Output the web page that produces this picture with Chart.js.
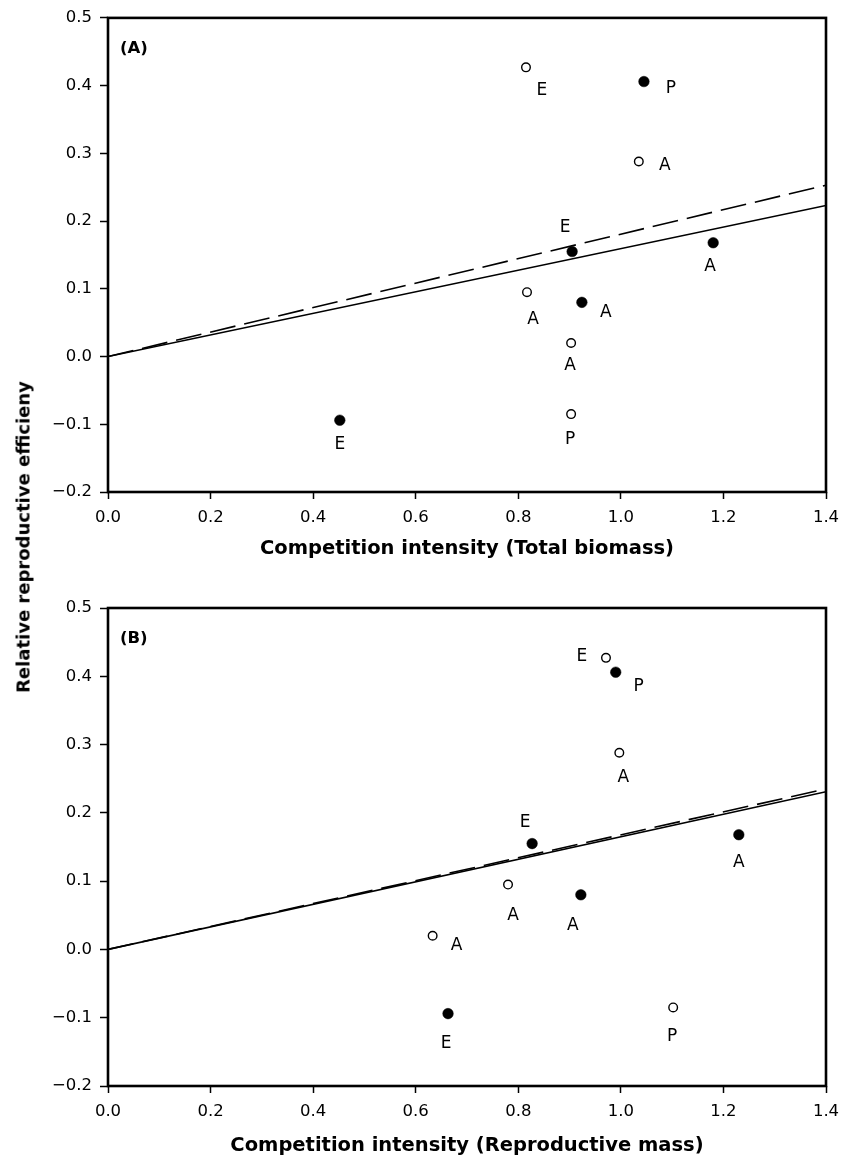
<!DOCTYPE html>
<html>
<head>
<meta charset="utf-8">
<script src="https://cdn.jsdelivr.net/npm/chart.js@4.4.0/dist/chart.umd.min.js"></script>
<style>
  html, body { margin: 0; padding: 0; background: #fff; }
  #wrap { position: relative; width: 850px; height: 1160px; }
  #panelA, #panelB { position: absolute; left: 0; }
  #panelA { top: 0; }
  #panelB { top: 580px; }
  #ytitle {
    position: absolute; left: 23px; top: 537px;
    transform: translate(-50%, -50%) rotate(-90deg);
    font: bold 18px "DejaVu Sans"; white-space: nowrap; color: #000;
  }
</style>
</head>
<body>
<div id="wrap">
  <canvas id="panelA" width="850" height="580"></canvas>
  <canvas id="panelB" width="850" height="580"></canvas>
  <div id="ytitle">Relative reproductive efficieny</div>
</div>
<script>
// relative reproductive efficiency, shared by both panels
const rreOpen = [0.427, 0.288, 0.095, 0.020, -0.085];
const tagsOpen = ['E', 'A', 'A', 'A', 'P'];
const rreFilled = [0.406, 0.155, 0.168, 0.080, -0.094];
const tagsFilled = ['P', 'E', 'A', 'A', 'E'];

// competition intensity
const ciTotalOpen = [0.815, 1.035, 0.817, 0.903, 0.903];
const ciTotalFilled = [1.045, 0.905, 1.180, 0.924, 0.452];
const ciReproOpen = [0.971, 0.997, 0.780, 0.633, 1.102];
const ciReproFilled = [0.990, 0.827, 1.230, 0.922, 0.663];

// fitted lines through the origin
const fitX = [0, 1.4];
const fitTotalSolid = [0, 0.223];
const fitTotalDashed = [0, 0.253];
const fitReproSolid = [0, 0.231];
const fitReproDashed = [0, 0.235];

const xTicks = [0, 0.2, 0.4, 0.6, 0.8, 1.0, 1.2, 1.4];
const yTicks = [-0.2, -0.1, 0, 0.1, 0.2, 0.3, 0.4, 0.5];

// where each letter sits next to its point (px)
const tagOffsetA = {
  open: [[16, 23], [26, 4], [6, 27], [-1, 23], [-1, 25]],
  filled: [[27, 7], [-7, -24], [-3, 24], [24, 10], [0, 24]]
};
const tagOffsetB = {
  open: [[-24, -1], [4, 25], [5, 31], [24, 10], [-1, 29]],
  filled: [[23, 14], [-7, -21], [0, 28], [-8, 31], [-2, 30]]
};

const fmt = v => (v < 0 ? '\u2212' + (-v).toFixed(1) : Number(v).toFixed(1));

const decor = {
  id: 'decor',
  afterDatasetsDraw(chart, args, opts) {
    const { ctx, chartArea: a, scales } = chart;
    ctx.save();
    // box around the plot
    ctx.strokeStyle = '#000';
    ctx.lineWidth = 2.6;
    ctx.strokeRect(a.left, a.top, a.right - a.left, a.bottom - a.top);

    // panel letter
    ctx.fillStyle = '#000';
    ctx.textBaseline = 'middle';
    ctx.textAlign = 'left';
    ctx.font = 'bold 16.5px "DejaVu Sans"';
    ctx.fillText(opts.letter, a.left + 12, a.top + 31);

    // point tags
    ctx.font = '17px "DejaVu Sans"';
    ctx.textAlign = 'center';
    const put = (ds, tags, offs) => {
      ds.data.forEach((p, i) => {
        const px = scales.x.getPixelForValue(p.x);
        const py = scales.y.getPixelForValue(p.y);
        ctx.fillText(tags[i], px + offs[i][0], py + offs[i][1]);
      });
    };
    put(chart.data.datasets[0], tagsOpen, opts.offsets.open);
    put(chart.data.datasets[1], tagsFilled, opts.offsets.filled);
    ctx.restore();
  }
};

function panel(id, letter, xTitle, xOpen, xFilled, fitSolid, fitDashed, offsets, padTop, axisH, titlePad) {
  const pts = (xs, ys) => xs.map((x, i) => ({ x, y: ys[i] }));
  return new Chart(document.getElementById(id), {
    type: 'scatter',
    data: {
      datasets: [
        {
          data: pts(xOpen, rreOpen),
          pointRadius: 4.3, pointBackgroundColor: '#fff',
          pointBorderColor: '#000', pointBorderWidth: 1.4, order: 0
        },
        {
          data: pts(xFilled, rreFilled),
          pointRadius: 5.3, pointBackgroundColor: '#000',
          pointBorderColor: '#000', pointBorderWidth: 0.5, order: 0
        },
        {
          data: pts(fitX, fitSolid), showLine: true,
          borderColor: '#000', borderWidth: 1.6, pointRadius: 0, order: 1
        },
        {
          data: pts(fitX, fitDashed), showLine: true,
          borderColor: '#000', borderWidth: 1.6, borderDash: [26, 9],
          pointRadius: 0, order: 1
        }
      ]
    },
    options: {
      responsive: false,
      animation: false,
      devicePixelRatio: 1,
      layout: { padding: { top: padTop, right: 24, left: 0, bottom: 0 } },
      plugins: {
        legend: { display: false },
        tooltip: { enabled: false },
        decor: { letter, offsets }
      },
      scales: {
        x: {
          type: 'linear', min: 0, max: 1.4,
          afterBuildTicks: s => { s.ticks = xTicks.map(v => ({ value: v })); },
          afterFit: s => { s.height = axisH; },
          border: { display: false },
          grid: { drawOnChartArea: false, drawTicks: true, tickLength: 7, tickColor: '#000', tickWidth: 1.5 },
          ticks: {
            color: '#000', padding: 9, maxRotation: 0, autoSkip: false,
            font: { family: 'DejaVu Sans', size: 16.5 }, callback: fmt
          },
          title: {
            display: true, text: xTitle, color: '#000',
            font: { family: 'DejaVu Sans', size: 19.5, weight: 'bold' },
            padding: { top: 4, bottom: titlePad }
          }
        },
        y: {
          type: 'linear', min: -0.2, max: 0.5,
          afterBuildTicks: s => { s.ticks = yTicks.map(v => ({ value: v })); },
          afterFit: s => { s.width = 108; },
          border: { display: false },
          grid: { drawOnChartArea: false, drawTicks: true, tickLength: 8, tickColor: '#000', tickWidth: 1.5 },
          ticks: {
            color: '#000', padding: 8, autoSkip: false,
            font: { family: 'DejaVu Sans', size: 16.5 }, callback: fmt
          }
        }
      }
    },
    plugins: [decor]
  });
}

panel('panelA', '(A)', 'Competition intensity (Total biomass)',
  ciTotalOpen, ciTotalFilled, fitTotalSolid, fitTotalDashed, tagOffsetA, 15, 88, 19);
panel('panelB', '(B)', 'Competition intensity (Reproductive mass)',
  ciReproOpen, ciReproFilled, fitReproSolid, fitReproDashed, tagOffsetB, 28, 74, 2);
</script>
</body>
</html>
